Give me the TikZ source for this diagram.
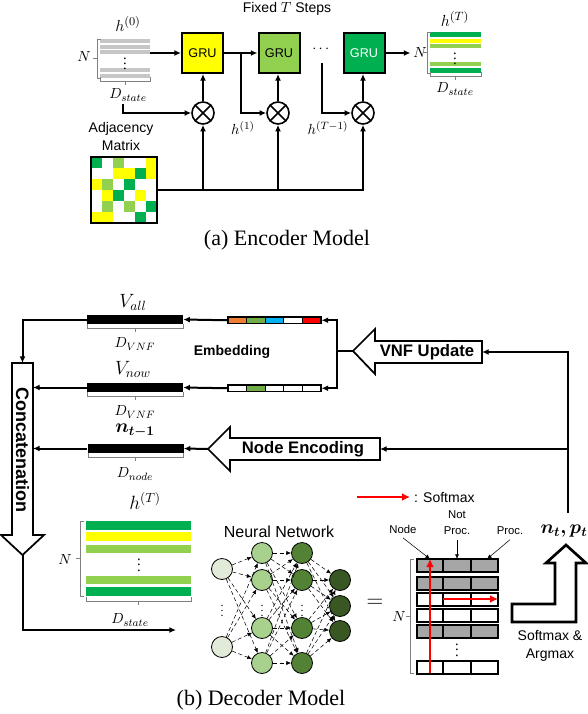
\documentclass[tikz,border=0pt]{standalone}
\usepackage{amsmath,bm}
\usepackage{fontspec}
\setmainfont{Liberation Serif}
\setsansfont{Liberation Sans}
\usetikzlibrary{arrows.meta}

\definecolor{gyellow}{RGB}{255,255,0}
\definecolor{glight}{RGB}{146,208,80}
\definecolor{gdark}{RGB}{0,176,80}
\definecolor{eorange}{RGB}{237,125,49}
\definecolor{egreen}{RGB}{112,173,71}
\definecolor{eblue}{RGB}{0,176,240}
\definecolor{nnA}{RGB}{226,235,218}
\definecolor{nnB}{RGB}{169,209,142}
\definecolor{nnC}{RGB}{84,130,53}
\definecolor{nnD}{RGB}{56,87,35}
\definecolor{cellgray}{RGB}{166,166,166}

\newcommand{\sizebrh}[3]{\draw[brk] (#1,#3-4) -- (#1,#3) -- (#2,#3) -- (#2,#3-4) ({(#1+#2)/2},#3) -- ++(0,4);}
\newcommand{\sizebrv}[3]{\draw[brk] (#1+4,#2) -- (#1,#2) -- (#1,#3) -- (#1+4,#3) (#1,{(#2+#3)/2}) -- ++(-4,0);}

\begin{document}
\begin{tikzpicture}[x=0.75pt,y=-0.75pt,
    >={Latex[length=5pt,width=4.5pt]},
    conn/.style={line width=1.5pt},
    gru/.style={draw,line width=1.5pt,minimum width=30.75pt,minimum height=30pt,inner sep=0pt,font=\sffamily\fontsize{9.5}{11}\selectfont},
    mult/.style={circle,draw,line width=1.2pt,minimum size=16.5pt,inner sep=0pt},
    vbar/.style={fill=black,minimum width=72pt,minimum height=6.75pt,inner sep=0pt},
    embvec/.style={draw,line width=0.8pt,minimum width=69.75pt,minimum height=4.9pt,inner sep=0pt},
    neuron/.style={circle,draw,line width=0.6pt,minimum size=15.75pt,inner sep=0pt},
    nnedge/.style={densely dashed,line width=0.4pt,-{Latex[length=3.5pt,width=3pt]}},
    softarr/.style={red,line width=2.2pt,-{Latex[length=6pt,width=6pt]}},
    thinarr/.style={line width=0.4pt,-{Latex[length=3.5pt,width=3pt]}},
    brk/.style={gray,line width=0.5pt},
    bigarr/.style={draw,line width=1.3pt,fill=white},
    sflbl/.style={font=\sffamily\fontsize{10.5}{13.5}\selectfont,align=center},
    smlbl/.style={font=\sffamily\fontsize{8.5}{12}\selectfont,align=center},
    sfbold/.style={font=\sffamily\bfseries\fontsize{12.5}{14}\selectfont},
    mlbl/.style={font=\fontsize{11}{13}\selectfont,inner sep=1pt},
    bigm/.style={font=\fontsize{14}{16}\selectfont},
    capt/.style={font=\fontsize{16.5}{20}\selectfont}]

\useasboundingbox (0,0) rectangle (588,714);

% encoder
\node[sflbl] (fixed) at (287,9) {Fixed $T$ Steps};
\foreach \ya/\yb in {39/43,45/49,50/54,68/72,74/78}
    \fill[gray!45] (100,\ya) rectangle (150,\yb);
\node[mlbl] (hzdots) at (125,60) {$\vdots$};
\sizebrv{97}{39}{78}
\sizebrh{100}{150}{81}
\node[mlbl] (hzN) at (84,57) {$N$};
\node[mlbl,font=\fontsize{12.5}{14}\selectfont] (hz) at (128,24) {$h^{(0)}$};
\node[mlbl] (hzD) at (128,95) {$D_{state}$};

\node[gru,fill=gyellow] (gru1) at (202.5,53) {GRU};
\node[gru,fill=glight] (gru2) at (279,53) {GRU};
\node[gru,fill=gdark,text=white] (gru3) at (364,53) {GRU};
\node[mlbl] (gdots) at (322,49) {$\cdots$};
\node[mult] (m1) at (203,113) {};
\node[mult] (m2) at (278,113) {};
\node[mult] (m3) at (363,113) {};
\foreach \m/\g in {m1/gru1,m2/gru2,m3/gru3} {
    \draw[line width=1.2pt] (\m.north west) -- (\m.south east) (\m.north east) -- (\m.south west);
    \draw[conn,->] (\m.north) -- (\m.north |- \g.south);
}
\coordinate (h0out) at (150,53);
\coordinate (dstart) at (123,104);
\coordinate (tmone) at (322,63);
\draw[conn,->] (h0out) -- (gru1.west);
\draw[conn,->] (gru1.east) -- (gru2.west);
\draw[conn,->] (gru1.east) -- ++(17,0) |- (m2.west);
\draw[conn,->] (dstart) |- (m1.west);
\draw[conn,->] (tmone) |- (m3.west);
\draw[conn,->] (gru3.east) -- ++(25,0);
\node[mlbl] (h1) at (243,128) {$h^{(1)}$};
\node[mlbl] (hTm) at (328,128) {$h^{(T-1)}$};

\node[mlbl] (hTN) at (420,53) {$N$};
\foreach \ya/\yb/\c in {32/37/gdark,39/43/gyellow,44/48/glight,62/66/glight,68/73/gdark}
    \fill[\c] (430,\ya) rectangle (481,\yb);
\node[mlbl] (hTdots) at (455,55) {$\vdots$};
\sizebrv{427}{32}{73}
\sizebrh{430}{481}{76}
\node[mlbl,font=\fontsize{12.5}{14}\selectfont] (hT) at (455,19) {$h^{(T)}$};
\node[mlbl] (hTD) at (455,89) {$D_{state}$};

\node[sflbl] (adjlbl) at (121,136) {Adjacency\\Matrix};
\foreach \row [count=\r from 0] in {{gdark,white,glight,white,white,gyellow},
    {white,white,gyellow,gyellow,gdark,gyellow},{gyellow,glight,white,gdark,white,white},
    {white,gyellow,gdark,white,gyellow,white},{white,glight,white,glight,white,gdark},
    {gyellow,gyellow,white,white,gdark,white}}
    \foreach \c [count=\k from 0] in \row
        \fill[\c] (91+11*\k,157+11*\r) rectangle ++(11,11);
\node[draw,line width=1pt,minimum size=49.5pt,inner sep=0pt] (adj) at (124,190) {};
\draw[conn,->] (adj.east) -| (m3.south);
\draw[conn,->] (adj.east -| m1.south) -- (m1.south);
\draw[conn,->] (adj.east -| m2.south) -- (m2.south);

\node[capt] (capa) at (287,240) {(a) Encoder Model};

% decoder
\node[vbar] (vall) at (135,319.5) {};
\node[bigm] (valllbl) at (133,302) {$V_{all}$};
\sizebrh{87}{183}{328}
\node[mlbl] (dvnfa) at (135,344) {$D_{VNF}$};
\node[vbar] (vnow) at (135,387.5) {};
\node[bigm] (vnowlbl) at (133,369) {$V_{now}$};
\sizebrh{87}{183}{396}
\node[mlbl] (dvnfb) at (135,412) {$D_{VNF}$};
\node[vbar] (nprev) at (135.5,448.5) {};
\node[bigm] (nprevlbl) at (135,431) {$\bm{n_{t-1}}$};
\sizebrh{88}{183}{457}
\node[mlbl] (dnode) at (135,474) {$D_{node}$};

\foreach \c [count=\k from 0] in {eorange,egreen,eblue,white,red}
    \fill[\c] (228+18.6*\k,317) rectangle ++(18.6,6.5);
\node[embvec] (emba) at (274.5,320.25) {};
\foreach \c [count=\k from 0] in {white,egreen,white,white,white}
    \fill[\c] (228+18.6*\k,385) rectangle ++(18.6,6.5);
\node[embvec] (embb) at (274.5,388.25) {};
\foreach \k in {1,...,4}
    \draw[line width=0.8pt] (228+18.6*\k,317) -- ++(0,6.5) (228+18.6*\k,385) -- ++(0,6.5);
\node[sfbold,font=\sffamily\bfseries\fontsize{10.5}{12}\selectfont] (embl) at (232,352) {Embedding};
\draw[conn,->] (emba.west) -- (vall.east);
\draw[conn,->] (embb.west) -- (vnow.east);

\draw[bigarr] (353,351) -- (375,329) -- (375,341) -- (482,341) -- (482,363) -- (375,363) -- (375,374) -- cycle;
\node[sfbold] (vnfupd) at (427,352) {VNF Update};
\coordinate (vnftip) at (353,351);
\coordinate (vnfR) at (482,352);
\draw[conn,->] (vnftip) -- ++(-16,0) |- (emba.east);
\draw[conn,->] (vnftip) -- ++(-16,0) |- (embb.east);

\draw[bigarr] (208,449) -- (230,427) -- (230,438) -- (380,438) -- (380,460) -- (230,460) -- (230,471) -- cycle;
\node[sfbold] (nodeenc) at (303,449) {Node Encoding};
\coordinate (netip) at (208,449);
\coordinate (neR) at (380,449);
\draw[conn,->] (netip) -- (nprev.east);

\draw[bigarr] (12,363) -- (33,363) -- (33,535) -- (44,535) -- (22.5,555) -- (1,535) -- (12,535) -- cycle;
\node[sfbold,font=\sffamily\bfseries\fontsize{13.5}{15}\selectfont,rotate=-90] (concat) at (22.5,450) {Concatenation};
\coordinate (cattop) at (22.5,363);
\coordinate (catR) at (33,450);
\coordinate (cattip) at (22.5,555);
\coordinate (nnin) at (176,630);
\draw[conn,->] (vall.west) -| (cattop);
\draw[conn,->] (vnow.west) -- (vnow.west -| catR);
\draw[conn,->] (nprev.west) -- (nprev.west -| catR);
\draw[conn,->] (cattip) |- (nnin);

\node[bigm] (hTdec) at (145,501) {$h^{(T)}$};
\foreach \ya/\yb/\c in {521/530/gdark,532/541/gyellow,545/553/glight,576/584/glight,587/596/gdark}
    \fill[\c] (86,\ya) rectangle (191,\yb);
\node[mlbl] (hTdecdots) at (139,561) {$\vdots$};
\sizebrv{80}{521}{596}
\node[mlbl] (hTdecN) at (65,560) {$N$};
\sizebrh{86}{191}{601}
\node[mlbl] (hTdecD) at (130,620) {$D_{state}$};

\node[sflbl,font=\sffamily\fontsize{12}{14}\selectfont] (nnlbl) at (279,532) {Neural Network};
\node[neuron,fill=nnA] (a1) at (222,569) {};
\node[neuron,fill=nnA] (a2) at (222,647) {};
\foreach \y [count=\i] in {553,580,628,663} {
    \node[neuron,fill=nnB] (b\i) at (262,\y) {};
    \node[neuron,fill=nnC] (c\i) at (302,\y) {};
}
\foreach \y [count=\i] in {580,606,631}
    \node[neuron,fill=nnD] (d\i) at (340,\y) {};
\foreach \i in {1,2}
    \foreach \j in {1,...,4}
        \draw[nnedge] (a\i) -- (b\j);
\foreach \i in {1,...,4} {
    \foreach \j in {1,...,4}
        \draw[nnedge] (b\i) -- (c\j);
    \foreach \j in {1,...,3}
        \draw[nnedge] (c\i) -- (d\j);
}
\foreach \x in {222,262,302}
    \node[mlbl,font=\fontsize{9}{10}\selectfont] at (\x,607) {$\vdots$};

\node[font=\fontsize{16}{18}\selectfont] (eq) at (375,603) {$=$};

\foreach \y/\c in {559/cellgray,577/cellgray,593/white,609/white,625/cellgray,661/white} {
    \draw[fill=\c,line width=0.8pt] (417,\y) rectangle ++(81,13);
    \draw[line width=0.8pt] (443,\y) -- ++(0,13) (471,\y) -- ++(0,13);
}
\node[mlbl] (outdots) at (457,646) {$\vdots$};
\sizebrv{410}{559}{673}
\node[mlbl] (outN) at (399,617) {$N$};
\coordinate (colA) at (430,559);
\coordinate (colAb) at (430,673);
\coordinate (colB) at (457,559);
\coordinate (colC) at (487,559);
\coordinate (rowS) at (443,599);
\draw[softarr] (colAb) -- (colA);
\draw[softarr] (rowS) -- ++(55,0);
\node[smlbl] (lnode) at (403,529) {Node};
\node[smlbl] (lnot) at (457,523) {Not\\Proc.};
\node[smlbl] (lproc) at (510,531) {Proc.};
\draw[thinarr] (lnode.south) -- (colA);
\draw[thinarr] (lnot.south) -- (colB);
\draw[thinarr] (lproc.south) -- (colC);

\coordinate (legA) at (357,497);
\draw[softarr] (legA) -- ++(53,0) node[right,sflbl,text=black,inner sep=2pt] (legtxt) {: Softmax};

\node[bigm] (ntpt) at (564,531) {$\bm{n_t, p_t}$};
\coordinate (nttop) at (568,513);
\draw[conn,->] (nttop) |- (vnfR);
\draw[conn,->] (nttop |- neR) -- (neR);

\draw[line width=2pt] (512,604) -- (555,604) -- (555,563) -- (546,563) -- (566,545) -- (586,563) -- (576,563) -- (576,622) -- (512,622) -- cycle;
\node[sflbl] (smx) at (550,646) {Softmax \&\\Argmax};

\node[capt] (capb) at (261,700) {(b) Decoder Model};
\end{tikzpicture}
\end{document}
